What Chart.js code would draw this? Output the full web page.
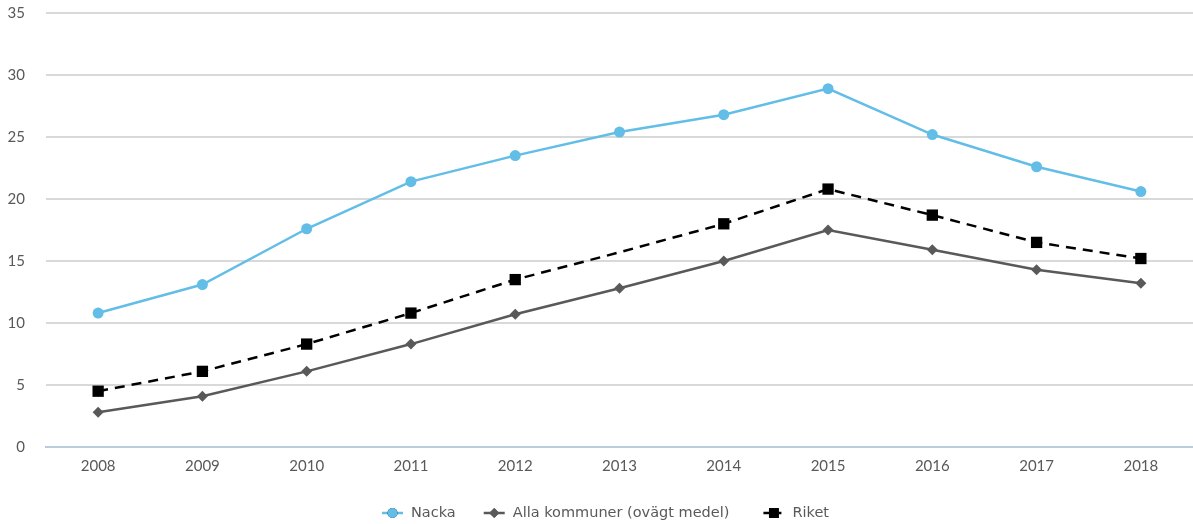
<!DOCTYPE html>
<html>
<head>
<meta charset="utf-8">
<script src="https://cdn.jsdelivr.net/npm/chart.js@4"></script>
<style>
  html, body { margin: 0; padding: 0; background: #ffffff; }
  #wrap { width: 1193px; height: 524px; position: relative; }
</style>
</head>
<body>
<div id="wrap"><canvas id="chart"></canvas></div>
<script>
// år
const years = ['2008', '2009', '2010', '2011', '2012', '2013', '2014', '2015', '2016', '2017', '2018'];

// serier
const nacka = [10.8, 13.1, 17.6, 21.4, 23.5, 25.4, 26.8, 28.9, 25.2, 22.6, 20.6];
const allaKommuner = [2.8, 4.1, 6.1, 8.3, 10.7, 12.8, 15.0, 17.5, 15.9, 14.3, 13.2];
const riket = [4.5, 6.1, 8.3, 10.8, 13.5, 15.7, 18.0, 20.8, 18.7, 16.5, 15.2];
// 2013 saknar markör för riket
const riketMarkers = [1, 1, 1, 1, 1, 0, 1, 1, 1, 1, 1];

const yTicks = [0, 5, 10, 15, 20, 25, 30, 35];

const seriesNames = ['Nacka', 'Alla kommuner (ovägt medel)', 'Riket'];

const GRID = '#d9d9d9';
const ZERO_LINE = '#bccbdc';
const TEXT = '#595959';
const LEGEND_FONT = '14.5px "DejaVu Sans"';

// egen legend: linje + markör + text, centrerad under diagrammet
const bottomLegend = {
    id: 'bottomLegend',
    afterDraw(chart) {
        const ctx = chart.ctx;
        const area = chart.chartArea;
        const lineW = 21, textGap = 8;
        const itemGaps = [28, 34];
        ctx.save();
        ctx.font = LEGEND_FONT;
        const widths = chart.data.datasets.map(ds => ctx.measureText(ds.label).width);
        let total = widths.reduce((a, w) => a + lineW + textGap + w, 0) + itemGaps[0] + itemGaps[1];
        let x = (area.left + area.right) / 2 - total / 2 - 14;
        const cy = chart.height - 11;
        chart.data.datasets.forEach((ds, i) => {
            ctx.strokeStyle = ds.borderColor;
            ctx.lineWidth = ds.borderWidth;
            ctx.setLineDash(ds.borderDash ? [7, 4] : []);
            ctx.beginPath();
            ctx.moveTo(x, cy);
            ctx.lineTo(x + lineW, cy);
            ctx.stroke();
            ctx.setLineDash([]);
            Chart.helpers.drawPoint(ctx, {
                pointStyle: ds.pointStyle,
                radius: ds.legendRadius,
                borderWidth: 0
            }, x + lineW / 2, cy);
            ctx.fillStyle = ds.borderColor;
            ctx.fill();
            ctx.fillStyle = TEXT;
            ctx.textBaseline = 'middle';
            ctx.textAlign = 'left';
            ctx.fillText(ds.label, x + lineW + textGap, cy);
            x += lineW + textGap + widths[i] + (itemGaps[i] || 0);
        });
        ctx.restore();
    }
};

new Chart(document.getElementById('chart'), {
    type: 'line',
    data: {
        labels: years,
        datasets: [
            {
                label: seriesNames[0],
                data: nacka,
                borderColor: '#63bee7',
                backgroundColor: '#63bee7',
                borderWidth: 2.5,
                pointStyle: 'circle',
                pointRadius: 5.5,
                pointBorderWidth: 0,
                legendRadius: 5,
                tension: 0
            },
            {
                label: seriesNames[1],
                data: allaKommuner,
                borderColor: '#595959',
                backgroundColor: '#595959',
                borderWidth: 2.5,
                pointStyle: 'rectRot',
                pointRadius: 5.5,
                pointBorderWidth: 0,
                legendRadius: 5,
                tension: 0
            },
            {
                label: seriesNames[2],
                data: riket,
                borderColor: '#000000',
                backgroundColor: '#000000',
                borderWidth: 2.5,
                borderDash: [10, 7],
                pointStyle: 'rect',
                pointRadius: riketMarkers.map(m => m * 8),
                pointBorderWidth: 0,
                legendRadius: 7,
                tension: 0
            }
        ]
    },
    options: {
        responsive: true,
        maintainAspectRatio: false,
        animation: false,
        layout: { autoPadding: false, padding: { top: 13, right: 0, left: 0, bottom: 25 } },
        plugins: {
            tooltip: { enabled: false },
            legend: { display: false }
        },
        scales: {
            x: {
                offset: true,
                grid: { display: false, drawTicks: false },
                border: { display: true, color: ZERO_LINE, width: 2 },
                ticks: {
                    color: TEXT,
                    padding: 10,
                    font: { family: 'Lato', size: 15 }
                },
                afterFit(scale) {
                    scale.height = 52;
                    scale.paddingLeft = 0;
                    scale.paddingRight = 0;
                }
            },
            y: {
                min: 0,
                max: 35,
                afterBuildTicks(scale) {
                    scale.ticks = yTicks.map(v => ({ value: v }));
                },
                grid: {
                    drawTicks: false,
                    lineWidth: 2,
                    color: ctx => (ctx.tick && ctx.tick.value === 0) ? ZERO_LINE : GRID
                },
                border: { display: false },
                ticks: {
                    color: TEXT,
                    padding: 21,
                    font: { family: 'Lato', size: 15 }
                },
                afterFit(scale) {
                    scale.width = 46;
                    scale.paddingTop = 0;
                    scale.paddingBottom = 0;
                }
            }
        }
    },
    plugins: [bottomLegend]
});
</script>
</body>
</html>
